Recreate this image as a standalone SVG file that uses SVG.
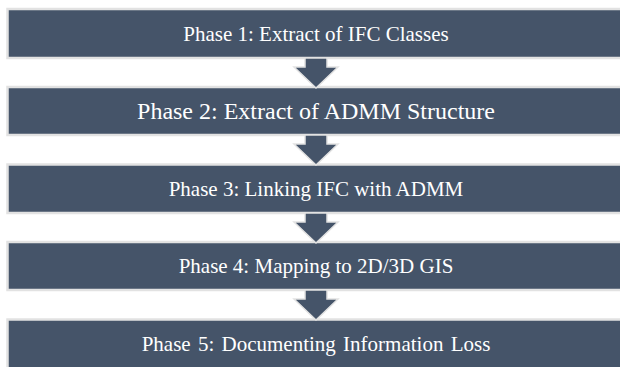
<svg xmlns="http://www.w3.org/2000/svg" width="620" height="367" viewBox="0 0 620 367">
  <style>
    .box { fill: #455469; stroke: #e2e2e2; stroke-width: 2.5; }
    .arrow { fill: #455469; stroke: #e2e2e2; stroke-width: 1.5; stroke-linejoin: miter; }
    .lbl { font-family: "Liberation Serif", "Times New Roman", serif; font-size: 21px; fill: #ffffff; text-anchor: middle; }
    .big { font-size: 24px; }
  </style>
  <rect width="620" height="367" fill="#ffffff"/>
  <g id="phase1">
    <rect class="box" x="7.5" y="9" width="640" height="49"/>
    <text class="lbl" x="316" y="41">Phase 1: Extract of IFC Classes</text>
  </g>
  <g id="phase2">
    <rect class="box" x="7.5" y="87" width="640" height="48"/>
    <text class="lbl big" x="316" y="119">Phase 2: Extract of ADMM Structure</text>
  </g>
  <g id="phase3">
    <rect class="box" x="7.5" y="164.5" width="640" height="48.5"/>
    <text class="lbl" x="316" y="196">Phase 3: Linking IFC with ADMM</text>
  </g>
  <g id="phase4">
    <rect class="box" x="7.5" y="242" width="640" height="48"/>
    <text class="lbl" x="316" y="273">Phase 4: Mapping to 2D/3D GIS</text>
  </g>
  <g id="phase5">
    <rect class="box" x="7.5" y="319.5" width="640" height="60"/>
    <text class="lbl" x="316" y="351" word-spacing="2">Phase 5: Documenting Information Loss</text>
  </g>
  <g id="connectors">
    <path class="arrow" d="M305,58 H327 V67 H338 L316,88 L294,67 H305 Z"/>
    <path class="arrow" d="M305,135 H327 V144 H338 L316,165 L294,144 H305 Z"/>
    <path class="arrow" d="M305,213 H327 V222 H338 L316,243 L294,222 H305 Z"/>
    <path class="arrow" d="M305,290 H327 V299 H338 L316,320 L294,299 H305 Z"/>
  </g>
</svg>
